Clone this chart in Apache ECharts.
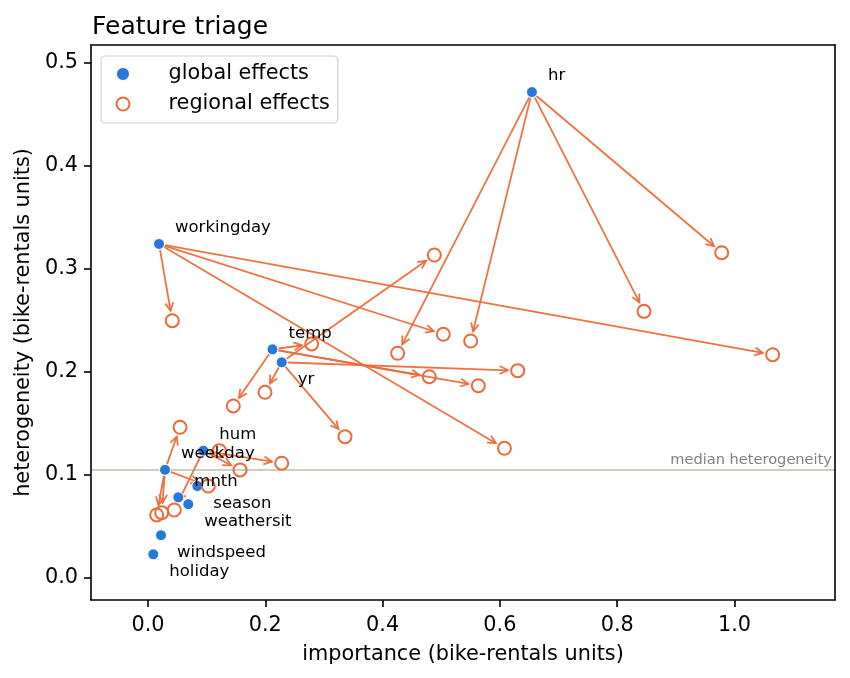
<!DOCTYPE html>
<html><head><meta charset="utf-8">
<script src="https://cdn.jsdelivr.net/npm/echarts@6/dist/echarts.min.js"></script>
<style>html,body{margin:0;padding:0;background:#fff}#c{width:850px;height:678px}</style>
</head><body><div id="c"></div>
<script>
// ---- data ----
const features = ['hr','workingday','temp','yr','hum','weekday','season','mnth','weathersit','windspeed','holiday'];
const globalImportance    = [0.6547,0.0188,0.2123,0.2280,0.0943,0.0290,0.0841,0.0517,0.0687,0.0222,0.0090];
const globalHeterogeneity = [0.4718,0.3243,0.2220,0.2094,0.1236,0.1050,0.0893,0.0783,0.0716,0.0415,0.0230];

const regionalFeature = ['hr','hr','hr','hr',
  'workingday','workingday','workingday','workingday',
  'temp','temp','temp','temp',
  'yr','yr','yr','yr',
  'hum','hum','hum','hum',
  'weekday','weekday','weekday','weekday'];
const regionalImportance = [0.9782,0.8457,0.5502,0.4257,
  0.0414,0.5035,1.0651,0.6078,
  0.2791,0.1454,0.4796,0.5632,
  0.4882,0.1995,0.3359,0.6304,
  0.1216,0.2280,0.1569,0.0448,
  0.0546,0.0148,0.0234,0.1028];
const regionalHeterogeneity = [0.3158,0.2589,0.2301,0.2182,
  0.2498,0.2366,0.2168,0.1259,
  0.2272,0.1670,0.1954,0.1867,
  0.3136,0.1803,0.1372,0.2013,
  0.1236,0.1114,0.1049,0.0660,
  0.1463,0.0612,0.0634,0.0893];

const xTicks = [0,0.2,0.4,0.6,0.8,1.0];
const yTicks = [0,0.1,0.2,0.3,0.4,0.5];

// ---- style config ----
const BLUE = '#2a78d6', ORANGE = '#ec6a3a';
const FONT = '"DejaVu Sans", sans-serif';
const labelBelow = ['yr','season','weathersit','windspeed','holiday'];

const sortedH = globalHeterogeneity.slice().sort((a,b)=>a-b);
const medianH = sortedH[Math.floor(sortedH.length/2)];

const globalData = features.map((f,i)=>[globalImportance[i], globalHeterogeneity[i]]);
const regionalData = regionalFeature.map((f,i)=>[regionalImportance[i], regionalHeterogeneity[i]]);
const arrowData = regionalFeature.map((f,i)=>{
  const g = features.indexOf(f);
  return [globalImportance[g], globalHeterogeneity[g], regionalImportance[i], regionalHeterogeneity[i]];
});

const X_MIN=-0.0972, X_MAX=1.1714, Y_MIN=-0.0214, Y_MAX=0.5175;
const axisFont = {fontFamily: FONT, fontSize: 20.8, color: '#000'};

const chart = echarts.init(document.getElementById('c'), null, {renderer:'canvas'});
chart.setOption({
  animation: false,
  backgroundColor: '#fff',
  title: {text: 'Feature triage', left: 92, top: 15, padding: 0,
    textStyle: {fontFamily: FONT, fontSize: 25, fontWeight: 'normal', color: '#000'}},
  legend: {
    orient: 'vertical', left: 101, top: 56,
    padding: [7, 8, 8, 14.5],
    itemWidth: 13, itemHeight: 13, itemGap: 8,
    borderColor: '#d0d0d0', borderWidth: 1.2, borderRadius: 4, backgroundColor: '#fff',
    textStyle: {fontFamily: FONT, fontSize: 20.8, color: '#000', lineHeight: 22, padding: [0,0,0,34]},
    data: [
      {name: 'global effects', icon: 'circle', itemStyle: {color: BLUE, borderColor: '#fff', borderWidth: 1}},
      {name: 'regional effects', icon: 'circle', itemStyle: {color: 'rgba(0,0,0,0)', borderColor: ORANGE, borderWidth: 2}}
    ]
  },
  grid: {left: 91, top: 45, width: 744, height: 555, containLabel: false},
  xAxis: [{
    type: 'value', min: X_MIN, max: X_MAX,
    name: 'importance (bike-rentals units)', nameLocation: 'middle', nameGap: 44,
    nameTextStyle: axisFont,
    axisLine: {show: true, onZero: false, lineStyle: {color: '#000', width: 1.6}},
    axisTick: {show: true, length: 7, lineStyle: {color: '#000', width: 1.6}, customValues: xTicks},
    axisLabel: {show: true, margin: 15, ...axisFont, customValues: xTicks, formatter: v => v.toFixed(1)},
    splitLine: {show: false}
  },{
    type: 'value', min: X_MIN, max: X_MAX, position: 'top',
    axisLine: {show: true, onZero: false, lineStyle: {color: '#000', width: 1.6}},
    axisTick: {show: false}, axisLabel: {show: false}, splitLine: {show: false}
  }],
  yAxis: [{
    type: 'value', min: Y_MIN, max: Y_MAX,
    name: 'heterogeneity (bike-rentals units)', nameLocation: 'middle', nameGap: 53,
    nameTextStyle: axisFont,
    axisLine: {show: true, onZero: false, lineStyle: {color: '#000', width: 1.6}},
    axisTick: {show: true, length: 7, lineStyle: {color: '#000', width: 1.6}, customValues: yTicks},
    axisLabel: {show: true, margin: 13, ...axisFont, customValues: yTicks, formatter: v => v.toFixed(1)},
    splitLine: {show: false}
  },{
    type: 'value', min: Y_MIN, max: Y_MAX, position: 'right',
    axisLine: {show: true, onZero: false, lineStyle: {color: '#000', width: 1.6}},
    axisTick: {show: false}, axisLabel: {show: false}, splitLine: {show: false}
  }],
  series: [
    {
      name: 'arrows', type: 'custom', z: 1, silent: true,
      xAxisIndex: 0, yAxisIndex: 0,
      encode: {x: [0,2], y: [1,3]},
      data: arrowData,
      renderItem: function(params, api){
        const p0 = api.coord([api.value(0), api.value(1)]);
        const p1 = api.coord([api.value(2), api.value(3)]);
        const dx = p1[0]-p0[0], dy = p1[1]-p0[1];
        const L = Math.hypot(dx, dy);
        const sA = 6, sB = 10;
        if (L <= sA + sB + 2) return {type: 'group', children: []};
        const ux = dx/L, uy = dy/L;
        const s = [p0[0]+ux*sA, p0[1]+uy*sA];
        const e = [p1[0]-ux*sB, p1[1]-uy*sB];
        const hl = 8, hw = 4;
        const b = [e[0]-ux*hl, e[1]-uy*hl];
        const l = [b[0]-uy*hw, b[1]+ux*hw], r = [b[0]+uy*hw, b[1]-ux*hw];
        return {type: 'group', children: [
          {type: 'line', shape: {x1: s[0], y1: s[1], x2: e[0], y2: e[1]},
            style: {stroke: ORANGE, lineWidth: 1.8, opacity: 0.95}},
          {type: 'polyline', shape: {points: [l, e, r]},
            style: {stroke: ORANGE, lineWidth: 1.8, fill: 'none', opacity: 0.95}}
        ]};
      }
    },
    {
      name: 'global effects', type: 'scatter', z: 3,
      symbol: 'circle', symbolSize: 11,
      itemStyle: {color: BLUE, borderColor: '#fff', borderWidth: 1, opacity: 1},
      data: globalData,
      emphasis: {disabled: true},
      markLine: {
        silent: true, symbol: ['none','none'], z: 0, precision: 6,
        lineStyle: {color: '#bdbdab', width: 1.6, type: 'solid'},
        label: {show: true, position: 'insideEndTop', distance: [3, 2],
          formatter: 'median heterogeneity', color: '#808080', fontFamily: FONT, fontSize: 14.6},
        data: [{yAxis: medianH}]
      }
    },
    {
      name: 'regional effects', type: 'scatter', z: 4,
      symbol: 'circle', symbolSize: 13,
      itemStyle: {color: 'rgba(0,0,0,0)', borderColor: ORANGE, borderWidth: 2, opacity: 1},
      data: regionalData,
      emphasis: {disabled: true}
    },
    {
      name: 'labels', type: 'custom', z: 5, silent: true,
      encode: {x: 0, y: 1},
      data: globalData,
      renderItem: function(params, api){
        const p = api.coord([api.value(0), api.value(1)]);
        const name = features[params.dataIndex];
        const below = labelBelow.indexOf(name) >= 0;
        return {type: 'text', x: p[0] + 16, y: p[1] + (below ? 17.5 : -16),
          style: {text: name, fill: '#000', font: '16.5px ' + FONT,
            align: 'left', verticalAlign: 'middle', textAlign: 'left', textVerticalAlign: 'middle'}};
      }
    }
  ]
});
</script>
</body></html>
